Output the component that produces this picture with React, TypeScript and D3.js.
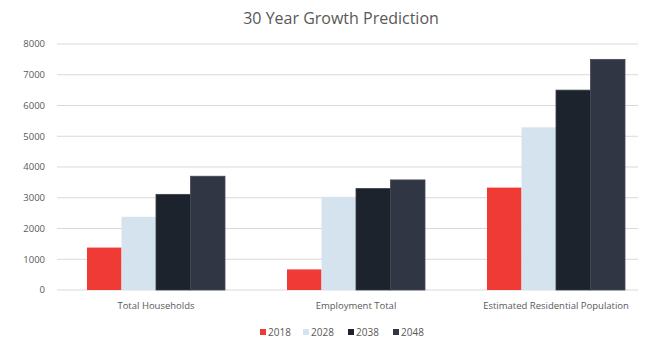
import React from "react";
import * as d3 from "d3";

const categories = ["Total Households", "Employment Total", "Estimated Residential Population"];
const seriesNames = ["2018", "2028", "2038", "2048"];
const values2018 = [1380, 670, 3330];
const values2028 = [2380, 3030, 5290];
const values2038 = [3110, 3300, 6500];
const values2048 = [3700, 3580, 7500];
const yTicks = [0, 1000, 2000, 3000, 4000, 5000, 6000, 7000, 8000];
const colors = ["#f03a35", "#d5e3ee", "#1d232c", "#303643"];
const strokes = ["none", "none", "#3a3f47", "#444a55"];

const W = 649;
const H = 339;

export default function App() {
  const series = [values2018, values2028, values2038, values2048];
  const x0 = d3.scaleBand<string>().domain(categories).range([56, 656]).paddingInner(0.31).paddingOuter(0.155);
  const x1 = d3.scaleBand<string>().domain(seriesNames).range([0, x0.bandwidth()]).padding(0);
  const y = d3.scaleLinear().domain([0, 8000]).range([290, 44]);
  const font = "'Open Sans', 'Liberation Sans', sans-serif";
  const legendX = [260, 303, 348, 393];

  return (
    <svg width={W} height={H} style={{ position: "absolute", left: 0, top: 0, background: "#fff" }} fontFamily={font}>
      <rect x={0} y={0} width={W} height={H} fill="#fff" />
      <text x={341} y={24} textAnchor="middle" fontSize={16} fill="#595959">30 Year Growth Prediction</text>
      {yTicks.map((t) => (
        <g key={t}>
          <line x1={57} x2={638} y1={y(t)} y2={y(t)} stroke="#d9d9d9" strokeWidth={1} />
          <text x={45} y={y(t)} dy="0.35em" textAnchor="end" fontSize={9.5} fill="#595959">{t}</text>
        </g>
      ))}
      {categories.map((c, ci) => (
        <g key={c} transform={`translate(${x0(c)},0)`}>
          {seriesNames.map((s, si) => (
            <rect
              key={s}
              x={x1(s)}
              y={y(series[si][ci])}
              width={x1.bandwidth()}
              height={y(0) - y(series[si][ci])}
              fill={colors[si]}
              stroke={strokes[si]}
              strokeWidth={0.8}
            />
          ))}
          <text x={x0.bandwidth() / 2} y={309} textAnchor="middle" fontSize={9.5} fill="#595959">{c}</text>
        </g>
      ))}
      {seriesNames.map((s, si) => (
        <g key={s} transform={`translate(${legendX[si]},0)`}>
          <rect x={0} y={329} width={6} height={6} fill={colors[si]} />
          <text x={8} y={332} dy="0.35em" fontSize={10} fill="#595959">{s}</text>
        </g>
      ))}
    </svg>
  );
}
